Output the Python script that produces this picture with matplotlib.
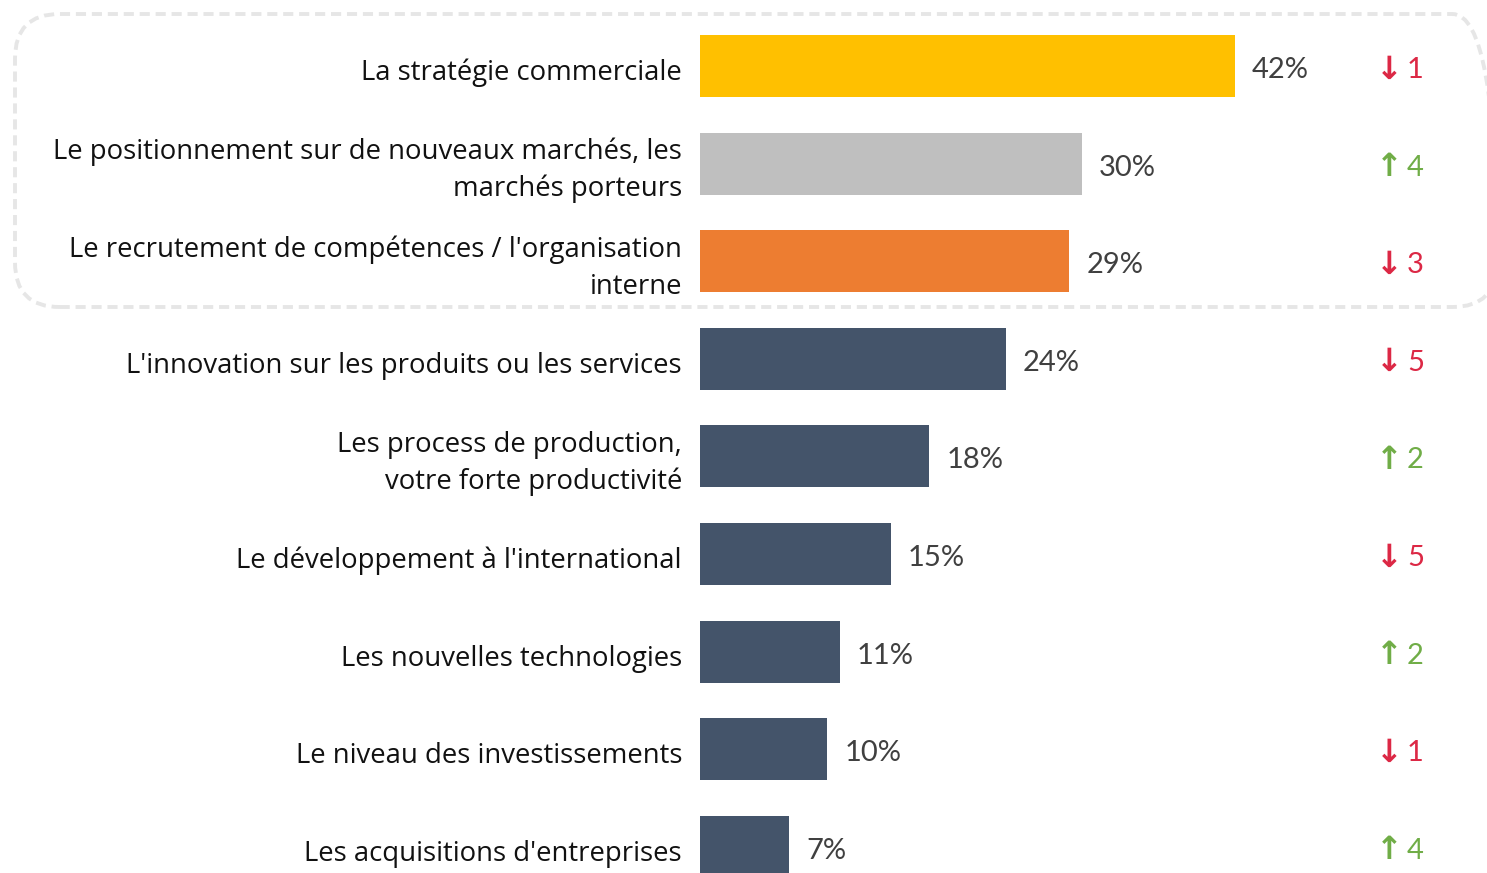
import matplotlib.pyplot as plt
from matplotlib.patches import FancyBboxPatch

# data
categories = [
    "La stratégie commerciale",
    "Le positionnement sur de nouveaux marchés, les\nmarchés porteurs",
    "Le recrutement de compétences / l'organisation\ninterne",
    "L'innovation sur les produits ou les services",
    "Les process de production,\nvotre forte productivité",
    "Le développement à l'international",
    "Les nouvelles technologies",
    "Le niveau des investissements",
    "Les acquisitions d'entreprises",
]
values = [42, 30, 29, 24, 18, 15, 11, 10, 7]
rank_change = [1, 4, 3, 5, 2, 5, 2, 1, 4]
rank_up = [False, True, False, False, True, False, True, False, True]

bar_colors = ["#FFC000", "#BFBFBF", "#ED7D31"] + ["#44546A"] * 6
red = "#DC2845"
green = "#70AD47"

W, H = 1487, 873
fig = plt.figure(figsize=(W / 100, H / 100), dpi=100)

# axes from the bar base to right edge, full height
ax = fig.add_axes([700 / W, 0, 1 - 700 / W, 1])
px_per_pct = 535 / 42
ax.set_xlim(0, (W - 700) / px_per_pct)
step = 97.6
ax.set_ylim((H - 66) / step, -66 / step)
ax.axis("off")

ypos = list(range(len(values)))
ax.barh(ypos, values, height=62 / step, color=bar_colors)

dy = 4 / step
for y, v in zip(ypos, values):
    ax.text(v + 17 / px_per_pct, y + dy, f"{v}%", va="center", ha="left",
            fontsize=21, color="#404040", family=["Lato", "DejaVu Sans"])

for y, lab in zip(ypos, categories):
    ax.text(-18 / px_per_pct, y + 7 / step, lab, va="center", ha="right",
            fontsize=19.8, color="#111111", family="Open Sans",
            linespacing=1.4, clip_on=False)

x0 = 700 / px_per_pct
for y, n, up in zip(ypos, rank_change, rank_up):
    arrow = "↑" if up else "↓"
    c = green if up else red
    ax.text(1376 / px_per_pct - x0, y + dy, arrow, va="center",
            ha="left", fontsize=23, color=c, family="DejaVu Sans",
            fontweight="bold")
    ax.text(1407 / px_per_pct - x0, y + dy, str(n), va="center",
            ha="left", fontsize=21, color=c, family=["Lato", "DejaVu Sans"])

# dashed rounded frame around the top three items
box = FancyBboxPatch((15 / W, (H - 307) / H), 1482 / W, 293 / H,
                     boxstyle="round,pad=0,rounding_size=0.03",
                     transform=fig.transFigure, fill=False,
                     edgecolor="#E6E6E6", linewidth=2.8,
                     linestyle=(0, (2.6, 1.5)), mutation_aspect=W / H)
fig.patches.append(box)

fig.savefig("out.png", dpi=100)
